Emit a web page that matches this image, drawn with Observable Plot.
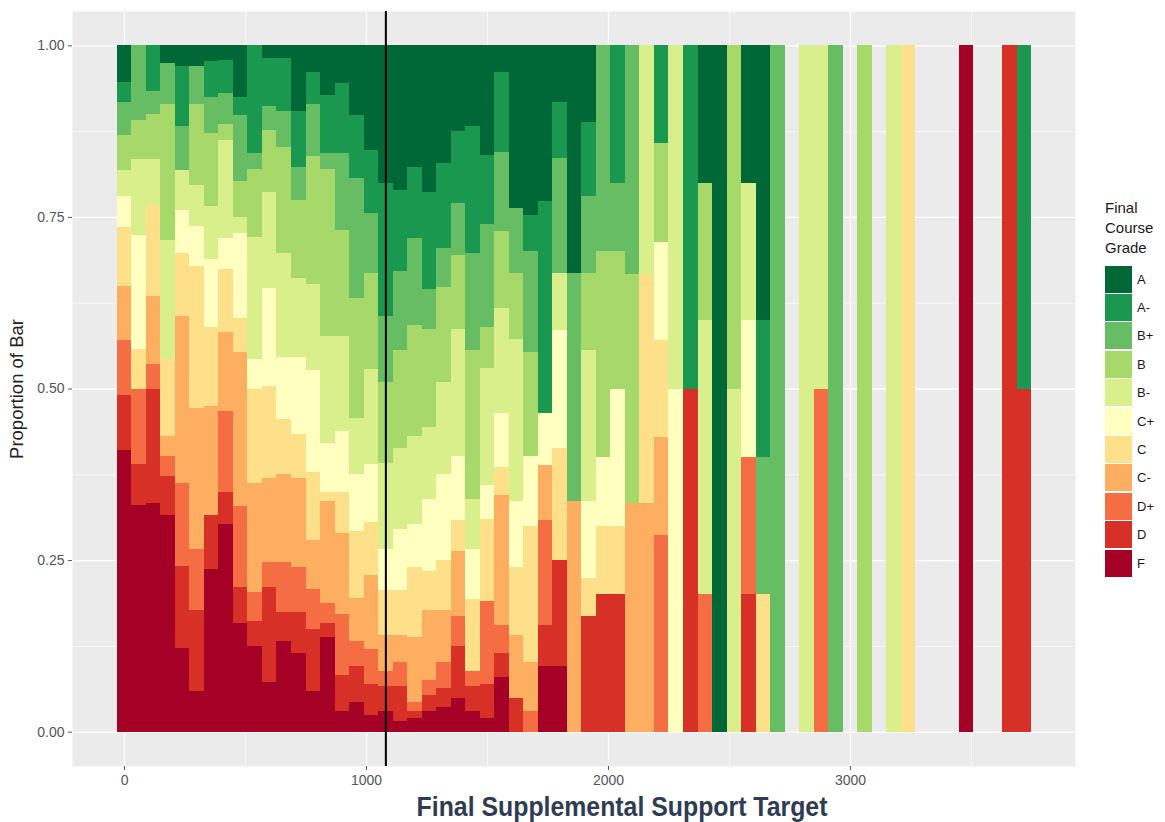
<!DOCTYPE html>
<html><head><meta charset="utf-8">
<script src="https://cdn.jsdelivr.net/npm/d3@7"></script>
<script src="https://cdn.jsdelivr.net/npm/@observablehq/plot@0.6"></script>
<style>
body{margin:0;background:#fff;font-family:"Liberation Sans",Arial,sans-serif;}
#wrap{position:relative;width:1165px;height:822px;overflow:hidden;}
#wrap svg{position:absolute;left:0;top:0;}
#ytitle{position:absolute;left:17px;top:389px;transform:translate(-50%,-50%) rotate(-90deg);font-size:18.5px;color:#222;white-space:nowrap;}
#xtitle{position:absolute;left:622px;top:807px;transform:translate(-50%,-50%) scaleX(0.92);font-family:"Liberation Sans",Arial,sans-serif;font-weight:bold;font-size:27px;color:#2f3b52;white-space:nowrap;}
#legend{position:absolute;left:1105px;top:198px;color:#1a1a1a;}
#legend .ttl{font-size:15px;line-height:20px;margin-bottom:7px;}
#legend .row{display:flex;align-items:center;height:28.4px;}
#legend .sw{width:27px;height:27px;margin-right:5px;}
#legend .lb{font-size:13px;}
</style></head><body>
<div id="wrap"><div id="ytitle">Proportion of Bar</div><div id="xtitle">Final Supplemental Support Target</div><div id="legend"></div></div>
<script>
// Grades from top of stack (A) to bottom (F)
const grades = ["A","A-","B+","B","B-","C+","C","C-","D+","D","F"];
const gradeColors = ["#006837","#1a9850","#66bd63","#a6d96a","#d9ef8b","#ffffbf","#fee08b","#fdae61","#f46d43","#d73027","#a50026"];

// Bin centres (bin width 60)
const binCenters = [0,60,120,180,240,300,360,420,480,540,600,660,720,780,840,900,960,1020,1080,1140,1200,1260,1320,1380,1440,1500,1560,1620,1680,1740,1800,1860,1920,1980,2040,2100,2160,2220,2280,2340,2400,2460,2520,2580,2640,2700,2820,2880,2940,3060,3180,3240,3480,3660,3720];
const binWidth = 60;
const cutoff = 1080;

// Cumulative share of the bar at or below each grade
const cumF  = [.41,.33,.333,.316,.122,.059,.237,.303,.158,.125,.072,.132,.115,.059,.138,.03,.043,.025,.03,.016,.02,.03,.036,.049,.03,.02,.079,0,0,.095,.095,0,0,0,0,0,0,0,0,0,0,0,0,0,0,0,0,0,0,0,0,0,1,0,0];
const cumD  = [.49,.39,.50,.373,.241,.178,.316,.349,.211,.161,.211,.174,.174,.149,.158,.082,.095,.07,.066,.066,.03,.053,.063,.125,.066,.07,.115,.049,0,.155,.25,0,.168,.2,.2,0,0,0,0,.5,0,0,0,.2,0,0,0,0,0,0,0,0,1,1,.5];
const cumDp = [.57,.50,.536,.401,.362,.266,.316,.467,.329,.203,.247,.247,.24,.208,.188,.171,.132,.12,.089,.102,.043,.076,.102,.168,.089,.19,.155,.049,.03,.309,.25,0,.168,.2,.2,0,0,.286,0,.5,.2,0,0,.4,0,0,0,.5,0,0,0,0,1,1,.5];
const cumCm = [.65,.50,.635,.431,.605,.472,.474,.582,.553,.362,.369,.376,.369,.28,.336,.29,.195,.228,.141,.141,.138,.178,.178,.263,.089,.19,.345,.141,.102,.388,.25,.336,.168,.2,.2,.333,.333,.429,0,.5,.2,0,0,.4,0,0,0,.5,0,0,0,0,1,1,.5];
const cumC  = [.735,.557,.768,.543,.697,.678,.589,.674,.602,.50,.504,.455,.434,.379,.349,.349,.293,.305,.207,.207,.24,.234,.25,.309,.194,.31,.386,.24,.299,.388,.414,.336,.224,.3,.3,.333,.667,.571,0,.5,.2,0,0,.4,.2,0,0,.5,0,0,0,1,1,1,.5];
const cumCp = [.78,.724,.768,.543,.76,.737,.688,.72,.727,.543,.647,.546,.546,.527,.421,.438,.375,.39,.266,.296,.303,.339,.375,.401,.266,.36,.464,.336,.401,.464,.585,.336,.336,.4,.5,.333,.667,.714,.5,.5,.2,0,0,.6,.2,0,0,.5,0,0,0,1,1,1,.5];
const cumBm = [.818,.834,.834,.717,.819,.796,.766,.862,.75,.721,.787,.697,.661,.652,.576,.576,.457,.528,.391,.414,.431,.444,.51,.586,.339,.53,.618,.572,.401,.464,.668,.336,.556,.4,.5,.333,1,.714,1,.5,.6,0,.5,.8,.2,0,1,1,0,0,1,1,1,1,.5];
const cumB  = [.87,.891,.90,.914,.819,.914,.872,.885,.803,.82,.876,.852,.774,.839,.82,.731,.632,.668,.51,.556,.592,.586,.648,.695,.556,.59,.73,.668,.553,.464,.668,.336,.668,.7,.7,.667,1,.857,1,.5,.8,0,1,.8,.2,0,1,1,0,1,1,1,1,1,.5];
const cumBp = [.918,1,.934,.974,.882,.97,.924,.931,.899,.843,.912,.905,.823,.915,.843,.843,.806,.756,.605,.671,.72,.645,.704,.77,.697,.74,.844,.763,.701,.464,.836,.668,.78,1,.8,1,1,.857,1,.5,.8,0,1,.8,.4,1,1,1,1,1,1,1,1,1,.5];
const cumAm = [.947,1,1,.974,.97,.97,.977,.978,.925,1,.981,.981,.905,.961,.928,.945,.898,.848,.80,.789,.822,.786,.829,.875,.882,.84,.961,.763,.753,.773,.918,.668,.888,1,1,1,1,1,1,1,.8,0,1,.8,.6,1,1,1,1,1,1,1,1,1,1];

const majorX = [0,1000,2000,3000];
const minorX = [500,1500,2500,3500];
const majorY = [0,0.25,0.5,0.75,1];
const minorY = [0.125,0.375,0.625,0.875];

// Build stacked rows, bottom (F) first
const cums = [cumF,cumD,cumDp,cumCm,cumC,cumCp,cumBm,cumB,cumBp,cumAm];
const bottomUp = grades.slice().reverse();
const rows = [];
binCenters.forEach((c,i)=>{
  let prev = 0;
  bottomUp.forEach((g,j)=>{
    const top = j < cums.length ? cums[j][i] : 1;
    const p = top - prev;
    if (p > 1e-9) rows.push({x1: c - binWidth/2, x2: c + binWidth/2, p, grade: g});
    prev = top;
  });
});

const chart = Plot.plot({
  width: 1165, height: 822,
  marginLeft: 72, marginRight: 90, marginTop: 11, marginBottom: 56,
  x: {domain: [-215, 3930]},
  y: {domain: [-0.05, 1.05]},
  color: {domain: grades, range: gradeColors},
  style: {fontFamily: "Liberation Sans, Arial, sans-serif", background: "transparent", overflow: "visible"},
  marks: [
    Plot.frame({fill: "#ebebeb", stroke: null}),
    Plot.gridX(minorX, {stroke: "white", strokeOpacity: 1, strokeWidth: 0.6}),
    Plot.gridY(minorY, {stroke: "white", strokeOpacity: 1, strokeWidth: 0.6}),
    Plot.gridX(majorX, {stroke: "white", strokeOpacity: 1, strokeWidth: 1.3}),
    Plot.gridY(majorY, {stroke: "white", strokeOpacity: 1, strokeWidth: 1.3}),
    Plot.rectY(rows, {x1: "x1", x2: "x2", y: "p", fill: "grade", inset: 0, shapeRendering: "crispEdges"}),
    Plot.ruleX([cutoff], {stroke: "black", strokeWidth: 2}),
    Plot.axisX(majorX, {anchor: "bottom", tickSize: 4, tickPadding: 5, label: null, fontSize: 14, color: "#555", tickFormat: d => String(d)}),
    Plot.axisY(majorY, {anchor: "left", tickSize: 4, tickPadding: 4, label: null, fontSize: 14, color: "#555", tickFormat: d => d.toFixed(2)})
  ]
});
document.getElementById("wrap").prepend(chart);

// Legend
const lg = document.getElementById("legend");
lg.innerHTML = '<div class="ttl">Final<br>Course<br>Grade</div>' +
  grades.map((g,i)=>`<div class="row"><div class="sw" style="background:${gradeColors[i]}"></div><div class="lb">${g}</div></div>`).join("");
</script>
</body></html>
